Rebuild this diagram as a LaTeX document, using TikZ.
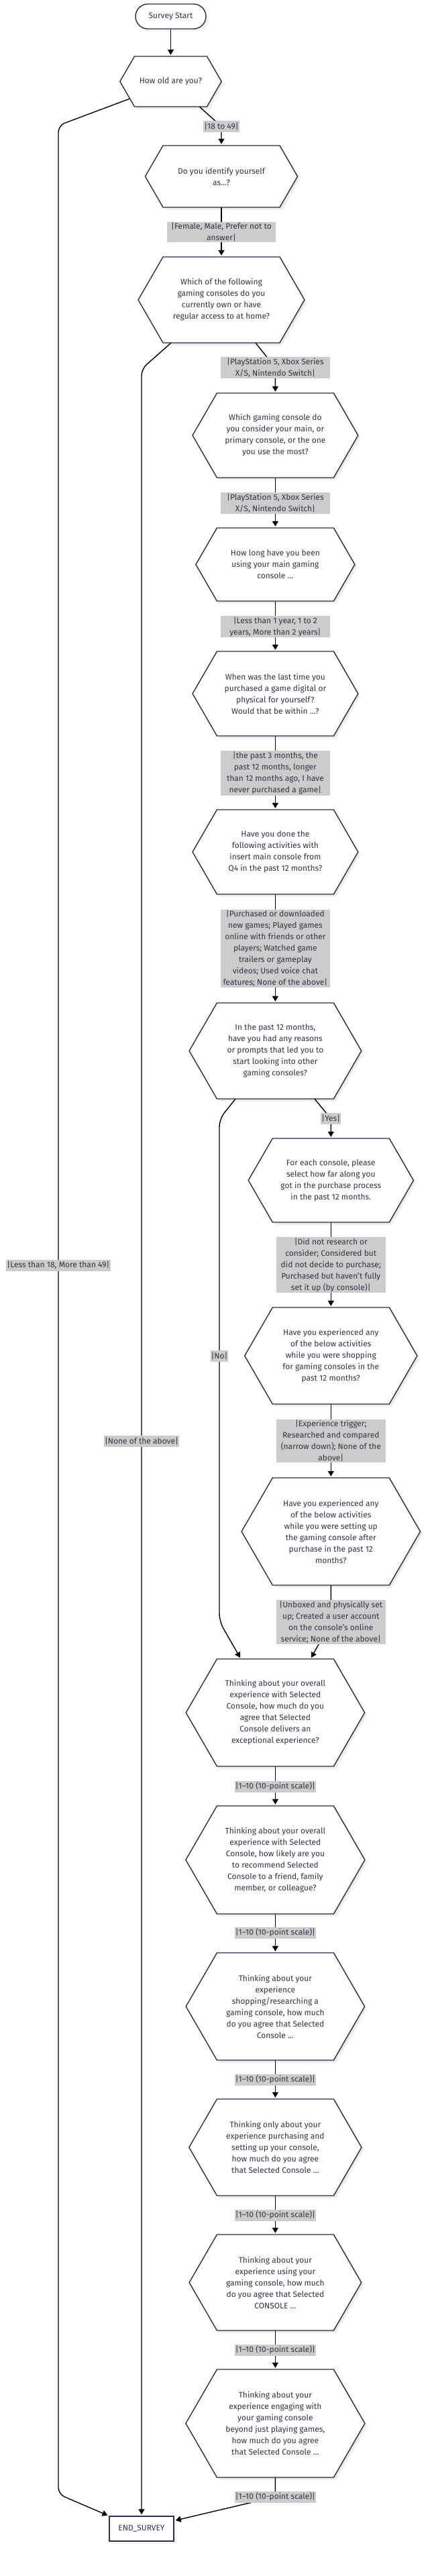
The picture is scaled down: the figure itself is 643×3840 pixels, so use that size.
\documentclass[tikz,border=0pt]{standalone}
\usepackage{fontspec}
\setmainfont{Fira Sans}
\usetikzlibrary{arrows.meta,calc}
\definecolor{txt}{HTML}{333344}
\definecolor{hexc}{HTML}{2E2E48}
\definecolor{lblfill}{HTML}{CCCCCC}
\pgfdeclarelayer{shadowlayer}
\pgfdeclarelayer{edgelayer}
\pgfsetlayers{shadowlayer,edgelayer,main}
\newcommand\qfont{\fontsize{12pt}{17pt}\selectfont}
\tikzset{
  qtext/.style={inner sep=0pt, align=center, text=txt, font=\qfont},
  edgelbl/.style={fill=lblfill, inner xsep=1pt, inner ysep=1.5pt, minimum height=17pt, align=center, text=txt, font=\qfont},
  wraplbl/.style={edgelbl, minimum width=162.5pt},
  conn/.style={draw=black, line width=1.4pt},
  arr/.style={conn, -{Triangle[length=8pt,width=9pt]}, shorten >=2pt},
  hexline/.style={draw=hexc, line width=1.4pt, line join=miter},
  startbox/.style={draw=hexc, line width=1.4pt, fill=white, rounded corners=18.5pt, minimum width=105pt, minimum height=37pt, inner sep=0pt, text=txt, font=\qfont},
  endbox/.style={draw=hexc, line width=1.4pt, fill=white, minimum width=96pt, minimum height=37pt, inner sep=0pt, text=txt, font=\qfont},
  shadowfill/.style={fill=black, opacity=0.05}
}
% name, x, y, halfwidth, height, text
\newcommand\hexq[6]{%
  \pgfmathsetmacro\hexW{2*#4}%
  \pgfmathsetmacro\hexL{#2-#4}%
  \pgfmathsetmacro\hexR{#2+#4}%
  \pgfmathsetmacro\hexLL{#2-#4-0.2887*#5}%
  \pgfmathsetmacro\hexRR{#2+#4+0.2887*#5}%
  \pgfmathsetmacro\hexT{#3-#5/2}%
  \pgfmathsetmacro\hexB{#3+#5/2}%
  \node[qtext, minimum width=\hexW pt, minimum height=#5pt] (#1) at (#2,#3) {#6};
  \begin{pgfonlayer}{shadowlayer}
    \fill[shadowfill, shift={(2,2)}] (\hexL,\hexT) -- (\hexR,\hexT) -- (\hexRR,#3) -- (\hexR,\hexB) -- (\hexL,\hexB) -- (\hexLL,#3) -- cycle;
    \fill[shadowfill, shift={(4,4)}] (\hexL,\hexT) -- (\hexR,\hexT) -- (\hexRR,#3) -- (\hexR,\hexB) -- (\hexL,\hexB) -- (\hexLL,#3) -- cycle;
    \fill[white] (\hexL,\hexT) -- (\hexR,\hexT) -- (\hexRR,#3) -- (\hexR,\hexB) -- (\hexL,\hexB) -- (\hexLL,#3) -- cycle;
  \end{pgfonlayer}
  \draw[hexline] (\hexL,\hexT) -- (\hexR,\hexT) -- (\hexRR,#3) -- (\hexR,\hexB) -- (\hexL,\hexB) -- (\hexLL,#3) -- cycle;
}
\begin{document}
\begin{tikzpicture}[x=1pt, y=-1pt]
\begin{pgfonlayer}{shadowlayer}
  \fill[white] (0,0) rectangle (643,3840);
\end{pgfonlayer}
\useasboundingbox (0,0) rectangle (643,3840);

% start / end
\node[startbox] (start) at (254.5,24.5) {Survey Start};
\node[endbox] (end) at (211,3769.5) {END\_SURVEY};
\begin{pgfonlayer}{shadowlayer}
  \fill[shadowfill, rounded corners=18.5pt] ($(start.north west)+(3,3)$) rectangle ($(start.south east)+(3,3)$);
  \fill[shadowfill] ($(end.north west)+(3,3)$) rectangle ($(end.south east)+(3,3)$);
\end{pgfonlayer}

% questions
\hexq{q1}{254.5}{121.5}{54}{75}{How old are you?}
\hexq{q2}{330}{263}{87}{92}{Do you identify yourself\\as…?}
\hexq{q3}{330}{447}{87}{128}{Which of the following\\gaming consoles do you\\currently own or have\\regular access to at home?}
\hexq{q4}{410.4}{649}{87}{126}{Which gaming console do\\you consider your main, or\\primary console, or the one\\you use the most?}
\hexq{q5}{410.4}{841.5}{87}{109}{How long have you been\\using your main gaming\\console …}
\hexq{q6}{410.4}{1034}{87}{126}{When was the last time you\\purchased a game digital or\\physical for yourself?\\Would that be within …?}
\hexq{q7}{410.4}{1270}{87}{126}{Have you done the\\following activities with\\insert main console from\\Q4 in the past 12 months?}
\hexq{q8}{410.4}{1566.5}{87}{143}{In the past 12 months,\\have you had any reasons\\or prompts that led you to\\start looking into other\\gaming consoles?}
\hexq{q9}{493.3}{1759.5}{87}{125}{For each console, please\\select how far along you\\got in the purchase process\\in the past 12 months.}
\hexq{q10}{493.3}{2021}{87}{144}{Have you experienced any\\of the below activities\\while you were shopping\\for gaming consoles in the\\past 12 months?}
\hexq{q11}{493.3}{2283}{87}{160}{Have you experienced any\\of the below activities\\while you were setting up\\the gaming console after\\purchase in the past 12\\months?}
\hexq{q12}{410.4}{2553}{87}{160}{Thinking about your overall\\experience with Selected\\Console, how much do you\\agree that Selected\\Console delivers an\\exceptional experience?}
\hexq{q13}{410.4}{2772.5}{87}{161}{Thinking about your overall\\experience with Selected\\Console, how likely are you\\to recommend Selected\\Console to a friend, family\\member, or colleague?}
\hexq{q14}{410.4}{2991}{87}{160}{Thinking about your\\experience\\shopping/researching a\\gaming console, how much\\do you agree that Selected\\Console …}
\hexq{q15}{410.4}{3201}{87}{144}{Thinking only about your\\experience purchasing and\\setting up your console,\\how much do you agree\\that Selected Console …}
\hexq{q16}{410.4}{3402.5}{87}{143}{Thinking about your\\experience using your\\gaming console, how much\\do you agree that Selected\\CONSOLE …}
\hexq{q17}{410.4}{3612.5}{87}{161}{Thinking about your\\experience engaging with\\your gaming console\\beyond just playing games,\\how much do you agree\\that Selected Console …}

% edge labels
\node[edgelbl] (L1) at (330,188.5) {|18 to 49|};
\node[wraplbl] (L2) at (330,346) {|Female, Male, Prefer not to\\answer|};
\node[wraplbl] (L3) at (410.4,548) {|PlayStation 5, Xbox Series\\X/S, Nintendo Switch|};
\node[wraplbl] (L4) at (410.4,750) {|PlayStation 5, Xbox Series\\X/S, Nintendo Switch|};
\node[wraplbl] (L5) at (410.4,934) {|Less than 1 year, 1 to 2\\years, More than 2 years|};
\node[wraplbl] (L6) at (410.4,1152.5) {|the past 3 months, the\\past 12 months, longer\\than 12 months ago, I have\\never purchased a game|};
\node[wraplbl] (L7) at (410.4,1414) {|Purchased or downloaded\\new games; Played games\\online with friends or other\\players; Watched game\\trailers or gameplay\\videos; Used voice chat\\features; None of the above|};
\node[edgelbl] (Lyes) at (493.3,1667.5) {|Yes|};
\node[wraplbl] (L9) at (493.3,1885.5) {|Did not research or\\consider; Considered but\\did not decide to purchase;\\Purchased but haven’t fully\\set it up (by console)|};
\node[wraplbl] (L10) at (493.3,2148) {|Experience trigger;\\Researched and compared\\(narrow down); None of the\\above|};
\node[wraplbl] (L11) at (493.3,2418) {|Unboxed and physically set\\up; Created a user account\\on the console’s online\\service; None of the above|};
\node[edgelbl] (L12) at (410.4,2663) {|1--10 (10-point scale)|};
\node[edgelbl] (L13) at (410.4,2881) {|1--10 (10-point scale)|};
\node[edgelbl] (L14) at (410.4,3100) {|1--10 (10-point scale)|};
\node[edgelbl] (L15) at (410.4,3302) {|1--10 (10-point scale)|};
\node[edgelbl] (L16) at (410.4,3503) {|1--10 (10-point scale)|};
\node[edgelbl] (L17) at (410.4,3722) {|1--10 (10-point scale)|};
\node[edgelbl] (Lno) at (327,2021) {|No|};
\node[edgelbl] (Lnone) at (211,2148) {|None of the above|};
\node[edgelbl] (Lless) at (87,1886) {|Less than 18, More than 49|};

% connectors
\begin{pgfonlayer}{edgelayer}
\draw[arr] (start.south) -- (q1.north);
\draw[arr] ([xshift=43pt]q1.south) -- (L1.center) -- (q2.north);
\draw[arr] (q2.south) -- (L2.center) -- (q3.north);
\draw[arr] ([xshift=51pt]q3.south) -- (L3.center) -- (q4.north);
\draw[arr] (q4.south) -- (L4.center) -- (q5.north);
\draw[arr] (q5.south) -- (L5.center) -- (q6.north);
\draw[arr] (q6.south) -- (L6.center) -- (q7.north);
\draw[arr] (q7.south) -- (L7.center) -- (q8.north);
\draw[arr] ([xshift=58.6pt]q8.south) -- (Lyes.center) -- (q9.north);
\draw[arr] (q9.south) -- (L9.center) -- (q10.north);
\draw[arr] (q10.south) -- (L10.center) -- (q11.north);
\draw[arr] (q11.south) -- (L11.center) -- ([xshift=52.6pt]q12.north);
\draw[arr] (q12.south) -- (L12.center) -- (q13.north);
\draw[arr] (q13.south) -- (L13.center) -- (q14.north);
\draw[arr] (q14.south) -- (L14.center) -- (q15.north);
\draw[arr] (q15.south) -- (L15.center) -- (q16.north);
\draw[arr] (q16.south) -- (L16.center) -- (q17.north);
\draw[arr] (q17.south) -- (L17.center) -- ([yshift=12pt]end.east);
\draw[arr, rounded corners=12pt] ([xshift=-59.4pt]q8.south) -- (327,1668) -- (Lno.center) -- (327,2417) -- ([xshift=-51.4pt]q12.north);
\draw[arr, rounded corners=10pt] ([xshift=-75pt]q3.south) -- (211,550) -- (Lnone.center) -- (end.north);
\draw[arr, rounded corners=10pt] ($(q1.center)+(-60.7,25.5)$) -- (87,187) -- (Lless.center) -- (87,3718) -- (end.north west);
\end{pgfonlayer}
\end{tikzpicture}
\end{document}
